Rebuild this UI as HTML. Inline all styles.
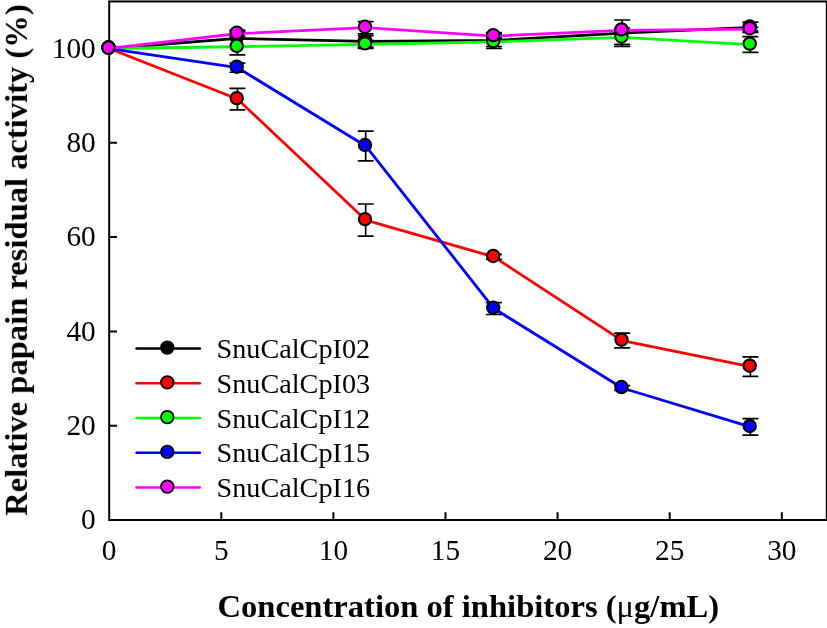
<!DOCTYPE html><html><head><meta charset="utf-8"><style>html,body{margin:0;padding:0;background:#fff;overflow:hidden}svg{display:block}text{will-change:transform}text{font-family:"Liberation Serif",serif}</style></head><body>
<svg width="827" height="628" viewBox="0 0 827 628">
<rect width="827" height="628" fill="#fff"/>
<rect x="109.2" y="1.45" width="717.60" height="518.55" fill="none" stroke="#000" stroke-width="2"/>
<path d="M221.30 520.0V512.2 M333.40 520.0V512.2 M445.50 520.0V512.2 M557.60 520.0V512.2 M669.70 520.0V512.2 M781.80 520.0V512.2 M109.2 425.70H117.0 M109.2 331.40H117.0 M109.2 237.10H117.0 M109.2 142.80H117.0 M109.2 48.50H117.0" stroke="#000" stroke-width="2" fill="none"/>
<text x="109.20" y="559.8" font-size="29.3" text-anchor="middle">0</text>
<text x="221.30" y="559.8" font-size="29.3" text-anchor="middle">5</text>
<text x="333.40" y="559.8" font-size="29.3" text-anchor="middle">10</text>
<text x="445.50" y="559.8" font-size="29.3" text-anchor="middle">15</text>
<text x="557.60" y="559.8" font-size="29.3" text-anchor="middle">20</text>
<text x="669.70" y="559.8" font-size="29.3" text-anchor="middle">25</text>
<text x="781.80" y="559.8" font-size="29.3" text-anchor="middle">30</text>
<text x="95.7" y="529.20" font-size="29.3" text-anchor="end">0</text>
<text x="95.7" y="434.90" font-size="29.3" text-anchor="end">20</text>
<text x="95.7" y="340.60" font-size="29.3" text-anchor="end">40</text>
<text x="95.7" y="246.30" font-size="29.3" text-anchor="end">60</text>
<text x="95.7" y="152.00" font-size="29.3" text-anchor="end">80</text>
<text x="95.7" y="57.70" font-size="29.3" text-anchor="end">100</text>
<polyline points="109.20,48.51 237.44,38.46 365.68,41.39 493.93,40.49 622.17,33.18 750.41,27.34" fill="none" stroke="#000000" stroke-width="2.8" stroke-linejoin="round"/>
<path d="M237.44 30.17V46.76M230.14 30.17H244.74M230.14 46.76H244.74M365.68 35.73V47.05M358.38 35.73H372.98M358.38 47.05H372.98M493.93 32.48V48.51M486.63 32.48H501.23M486.63 48.51H501.23M622.17 19.98V46.39M614.87 19.98H629.47M614.87 46.39H629.47M750.41 22.15V32.52M743.11 22.15H757.71M743.11 32.52H757.71" stroke="#000" stroke-width="1.7" stroke-linecap="round" fill="none"/>
<circle cx="108.50" cy="47.56" r="6.2" fill="#000000" stroke="#000" stroke-width="2.0"/>
<circle cx="236.74" cy="37.51" r="6.2" fill="#000000" stroke="#000" stroke-width="2.0"/>
<circle cx="364.98" cy="40.44" r="6.2" fill="#000000" stroke="#000" stroke-width="2.0"/>
<circle cx="493.23" cy="39.54" r="6.2" fill="#000000" stroke="#000" stroke-width="2.0"/>
<circle cx="621.47" cy="32.23" r="6.2" fill="#000000" stroke="#000" stroke-width="2.0"/>
<circle cx="749.71" cy="26.39" r="6.2" fill="#000000" stroke="#000" stroke-width="2.0"/>
<polyline points="109.20,48.51 237.44,99.05 365.68,220.04 493.93,256.91 622.17,340.55 750.41,366.63" fill="none" stroke="#ff0000" stroke-width="2.8" stroke-linejoin="round"/>
<path d="M237.44 88.30V109.80M230.14 88.30H244.74M230.14 109.80H244.74M365.68 204.01V236.07M358.38 204.01H372.98M358.38 236.07H372.98M493.93 254.46V259.36M486.63 254.46H501.23M486.63 259.36H501.23M622.17 333.15V347.96M614.87 333.15H629.47M614.87 347.96H629.47M750.41 356.92V376.34M743.11 356.92H757.71M743.11 376.34H757.71" stroke="#000" stroke-width="1.7" stroke-linecap="round" fill="none"/>
<circle cx="108.50" cy="47.56" r="6.2" fill="#ff0000" stroke="#000" stroke-width="2.0"/>
<circle cx="236.74" cy="98.10" r="6.2" fill="#ff0000" stroke="#000" stroke-width="2.0"/>
<circle cx="364.98" cy="219.09" r="6.2" fill="#ff0000" stroke="#000" stroke-width="2.0"/>
<circle cx="493.23" cy="255.96" r="6.2" fill="#ff0000" stroke="#000" stroke-width="2.0"/>
<circle cx="621.47" cy="339.60" r="6.2" fill="#ff0000" stroke="#000" stroke-width="2.0"/>
<circle cx="749.71" cy="365.68" r="6.2" fill="#ff0000" stroke="#000" stroke-width="2.0"/>
<polyline points="109.20,48.51 237.44,46.76 365.68,44.36 493.93,41.91 622.17,37.43 750.41,44.55" fill="none" stroke="#00ff00" stroke-width="2.8" stroke-linejoin="round"/>
<path d="M237.44 38.56V54.97M230.14 38.56H244.74M230.14 54.97H244.74M365.68 40.35V48.37M358.38 40.35H372.98M358.38 48.37H372.98M493.93 37.19V46.62M486.63 37.19H501.23M486.63 46.62H501.23M622.17 30.45V44.40M614.87 30.45H629.47M614.87 44.40H629.47M750.41 36.63V52.47M743.11 36.63H757.71M743.11 52.47H757.71" stroke="#000" stroke-width="1.7" stroke-linecap="round" fill="none"/>
<circle cx="108.50" cy="47.56" r="6.2" fill="#00ff00" stroke="#000" stroke-width="2.0"/>
<circle cx="236.74" cy="45.81" r="6.2" fill="#00ff00" stroke="#000" stroke-width="2.0"/>
<circle cx="364.98" cy="43.41" r="6.2" fill="#00ff00" stroke="#000" stroke-width="2.0"/>
<circle cx="493.23" cy="40.96" r="6.2" fill="#00ff00" stroke="#000" stroke-width="2.0"/>
<circle cx="621.47" cy="36.48" r="6.2" fill="#00ff00" stroke="#000" stroke-width="2.0"/>
<circle cx="749.71" cy="43.60" r="6.2" fill="#00ff00" stroke="#000" stroke-width="2.0"/>
<polyline points="109.20,48.51 237.44,67.65 365.68,145.97 493.93,308.54 622.17,387.99 750.41,426.93" fill="none" stroke="#0000ff" stroke-width="2.8" stroke-linejoin="round"/>
<path d="M237.44 63.03V72.27M230.14 63.03H244.74M230.14 72.27H244.74M365.68 131.07V160.87M358.38 131.07H372.98M358.38 160.87H372.98M493.93 302.60V314.48M486.63 302.60H501.23M486.63 314.48H501.23M622.17 385.63V390.34M614.87 385.63H629.47M614.87 390.34H629.47M750.41 418.68V435.18M743.11 418.68H757.71M743.11 435.18H757.71" stroke="#000" stroke-width="1.7" stroke-linecap="round" fill="none"/>
<circle cx="108.50" cy="47.56" r="6.2" fill="#0000ff" stroke="#000" stroke-width="2.0"/>
<circle cx="236.74" cy="66.70" r="6.2" fill="#0000ff" stroke="#000" stroke-width="2.0"/>
<circle cx="364.98" cy="145.02" r="6.2" fill="#0000ff" stroke="#000" stroke-width="2.0"/>
<circle cx="493.23" cy="307.59" r="6.2" fill="#0000ff" stroke="#000" stroke-width="2.0"/>
<circle cx="621.47" cy="387.04" r="6.2" fill="#0000ff" stroke="#000" stroke-width="2.0"/>
<circle cx="749.71" cy="425.98" r="6.2" fill="#0000ff" stroke="#000" stroke-width="2.0"/>
<polyline points="109.20,48.51 237.44,33.65 365.68,27.67 493.93,36.06 622.17,30.35 750.41,29.18" fill="none" stroke="#ff00ff" stroke-width="2.8" stroke-linejoin="round"/>
<path d="M237.44 31.30V36.01M230.14 31.30H244.74M230.14 36.01H244.74M365.68 21.54V33.80M358.38 21.54H372.98M358.38 33.80H372.98M493.93 33.70V38.42M486.63 33.70H501.23M486.63 38.42H501.23M622.17 28.00V32.71M614.87 28.00H629.47M614.87 32.71H629.47M750.41 27.29V31.06M743.11 27.29H757.71M743.11 31.06H757.71" stroke="#000" stroke-width="1.7" stroke-linecap="round" fill="none"/>
<circle cx="108.50" cy="47.56" r="6.2" fill="#ff00ff" stroke="#000" stroke-width="2.0"/>
<circle cx="236.74" cy="32.70" r="6.2" fill="#ff00ff" stroke="#000" stroke-width="2.0"/>
<circle cx="364.98" cy="26.72" r="6.2" fill="#ff00ff" stroke="#000" stroke-width="2.0"/>
<circle cx="493.23" cy="35.11" r="6.2" fill="#ff00ff" stroke="#000" stroke-width="2.0"/>
<circle cx="621.47" cy="29.40" r="6.2" fill="#ff00ff" stroke="#000" stroke-width="2.0"/>
<circle cx="749.71" cy="28.23" r="6.2" fill="#ff00ff" stroke="#000" stroke-width="2.0"/>
<line x1="136.5" y1="348.5" x2="199.9" y2="348.5" stroke="#000000" stroke-width="2.4" stroke-linecap="round"/>
<circle cx="167.3" cy="347.60" r="6.3" fill="#000000" stroke="#000" stroke-width="1.8"/>
<text x="216.6" y="358.00" font-size="28.2">SnuCalCpI02</text>
<line x1="136.5" y1="383.25" x2="199.9" y2="383.25" stroke="#ff0000" stroke-width="2.4" stroke-linecap="round"/>
<circle cx="167.3" cy="382.35" r="6.3" fill="#ff0000" stroke="#000" stroke-width="1.8"/>
<text x="216.6" y="392.75" font-size="28.2">SnuCalCpI03</text>
<line x1="136.5" y1="418.0" x2="199.9" y2="418.0" stroke="#00ff00" stroke-width="2.4" stroke-linecap="round"/>
<circle cx="167.3" cy="417.10" r="6.3" fill="#00ff00" stroke="#000" stroke-width="1.8"/>
<text x="216.6" y="427.50" font-size="28.2">SnuCalCpI12</text>
<line x1="136.5" y1="452.75" x2="199.9" y2="452.75" stroke="#0000ff" stroke-width="2.4" stroke-linecap="round"/>
<circle cx="167.3" cy="451.85" r="6.3" fill="#0000ff" stroke="#000" stroke-width="1.8"/>
<text x="216.6" y="462.25" font-size="28.2">SnuCalCpI15</text>
<line x1="136.5" y1="487.5" x2="199.9" y2="487.5" stroke="#ff00ff" stroke-width="2.4" stroke-linecap="round"/>
<circle cx="167.3" cy="486.60" r="6.3" fill="#ff00ff" stroke="#000" stroke-width="1.8"/>
<text x="216.6" y="497.00" font-size="28.2">SnuCalCpI16</text>
<text x="468.3" y="617.0" font-size="32.6" font-weight="bold" text-anchor="middle">Concentration of inhibitors (<tspan font-weight="normal">μ</tspan>g/mL)</text>
<text transform="translate(26.9,260.1) rotate(-90)" x="0" y="0" font-size="32.6" font-weight="bold" text-anchor="middle">Relative papain residual activity (%)</text>
</svg></body></html>
